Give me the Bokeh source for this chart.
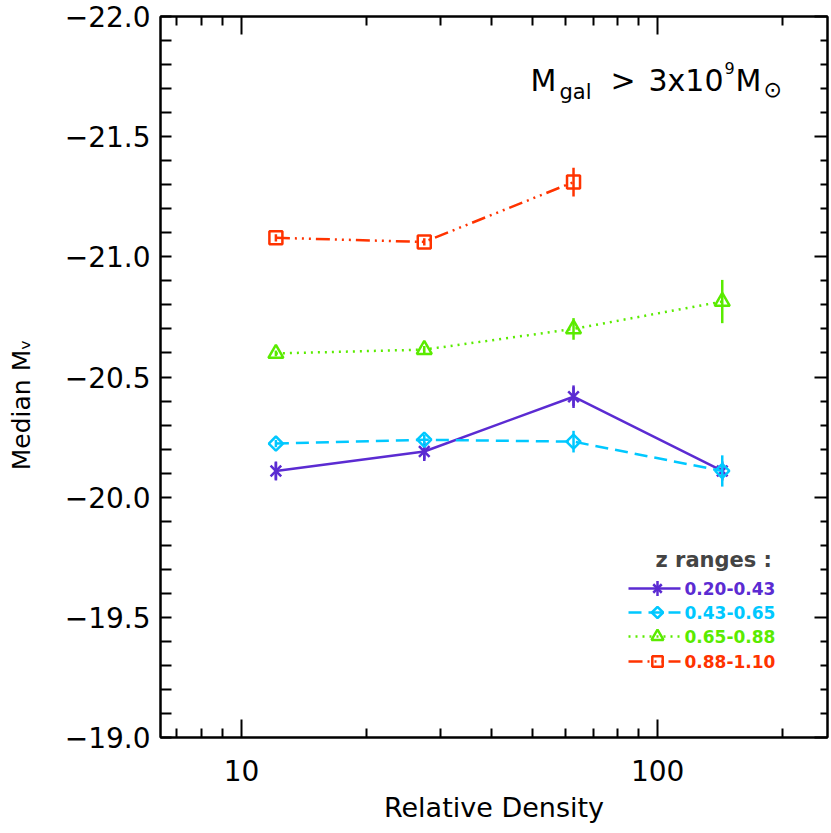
import math
from bokeh.plotting import figure
from bokeh.models import (Range1d, LinearAxis, LogAxis, FixedTicker,
                          CustomJSTickFormatter, Label, LinearScale)
from bokeh.embed import file_html
from bokeh.resources import INLINE

# ---------------- data ----------------
density_4 = [12.1, 27.5, 62.8, 143.0]
density_3 = [12.1, 27.5, 62.8]

mv_020_043 = [-20.109, -20.190, -20.418, -20.109]
err_020_043 = [0.036, 0.033, 0.047, 0.030]

mv_043_065 = [-20.223, -20.239, -20.231, -20.109]
err_043_065 = [0.015, 0.020, 0.045, 0.065]

mv_065_088 = [-20.598, -20.614, -20.700, -20.814]
err_065_088 = [0.012, 0.015, 0.045, 0.090]

mv_088_110 = [-21.079, -21.062, -21.311]
err_088_110 = [0.015, 0.015, 0.060]

z_labels = ["0.20-0.43", "0.43-0.65", "0.65-0.88", "0.88-1.10"]
y_ticks = [-22.0, -21.5, -21.0, -20.5, -20.0, -19.5, -19.0]
x_ticks = [10, 100]

# ---------------- styles ----------------
PURPLE = "#5b2bd2"
CYAN = "#00c8ff"
GREEN = "#5aeb00"
RED = "#ff3300"
FONT = "DejaVu Sans"

W, H = 829, 833
MB_L, MB_R, MB_T, MB_B = 160, 2, 16, 96
# frame position in canvas pixels
PX0, PX1 = MB_L, W - MB_R
PY0, PY1 = MB_T, H - MB_B

p = figure(width=W, height=H, x_axis_type="log",
           x_range=Range1d(6.39, 256), y_range=Range1d(-19.0, -22.0),
           output_backend="svg", toolbar_location=None,
           min_border_left=MB_L, min_border_right=MB_R,
           min_border_top=MB_T, min_border_bottom=MB_B)
p.grid.visible = False
p.outline_line_color = "black"
p.outline_line_width = 2
p.background_fill_color = "white"
p.border_fill_color = "white"

# pixel-coordinate helper ranges for annotations / legend
p.extra_x_ranges = {"pg": Range1d(PX0, PX1)}
p.extra_y_ranges = {"pg": Range1d(PY1, PY0)}
p.extra_x_scales = {"pg": LinearScale()}
p.extra_y_scales = {"pg": LinearScale()}

minor_y = [round(-22 + 0.1 * i, 1) for i in range(31) if i % 5 != 0]
minor_x = [7, 8, 9, 20, 30, 40, 50, 60, 70, 80, 90, 200]


def style_axis(ax, major_in, minor_in, labels=True):
    ax.axis_line_width = 2
    ax.axis_line_color = "black"
    ax.major_tick_line_width = 2
    ax.minor_tick_line_width = 2
    ax.major_tick_in = major_in
    ax.major_tick_out = 0
    ax.minor_tick_in = minor_in
    ax.minor_tick_out = 0
    if labels:
        ax.major_label_text_font = FONT
        ax.major_label_text_font_size = "28px"
        ax.major_label_text_color = "black"
    else:
        ax.major_label_text_font_size = "1px"
        ax.major_label_text_alpha = 0
        ax.major_label_standoff = 0


ytick = FixedTicker(ticks=y_ticks, minor_ticks=minor_y)
xtick = FixedTicker(ticks=x_ticks, minor_ticks=minor_x)
yfmt = CustomJSTickFormatter(code="return (tick < 0 ? '\u2212' : '') + Math.abs(tick).toFixed(1);")
xfmt = CustomJSTickFormatter(code="return tick.toFixed(0);")

ly = p.yaxis[0]
ly.ticker = ytick
ly.formatter = yfmt
style_axis(ly, 11, 11)
ly.major_label_standoff = 10
# y title (subscript V); padded with no-break spaces so it sits where the reference has it
ly.axis_label = "Median M\u1d65" + "\u00a0" * 7
ly.axis_label_text_font = FONT
ly.axis_label_text_font_size = "25px"
ly.axis_label_text_font_style = "normal"
ly.axis_label_text_color = "black"
ly.axis_label_standoff = 26

bx = p.xaxis[0]
bx.ticker = xtick
bx.formatter = xfmt
style_axis(bx, 18, 9)
bx.major_label_standoff = 22
bx.axis_label = "Relative Density"
bx.axis_label_text_font = FONT
bx.axis_label_text_font_size = "27px"
bx.axis_label_text_font_style = "normal"
bx.axis_label_text_color = "black"
bx.axis_label_standoff = 8

ry = LinearAxis(ticker=FixedTicker(ticks=y_ticks, minor_ticks=minor_y))
style_axis(ry, 13, 7, labels=False)
p.add_layout(ry, "right")

tx = LogAxis(ticker=FixedTicker(ticks=x_ticks, minor_ticks=minor_x))
style_axis(tx, 18, 9, labels=False)
p.add_layout(tx, "above")

# ---------------- series ----------------
series = [
    (density_4, mv_020_043, err_020_043, PURPLE, "solid", "star"),
    (density_4, mv_043_065, err_043_065, CYAN, "13 7", "diamond"),
    (density_4, mv_065_088, err_065_088, GREEN, "2 5", "triangle"),
    (density_3, mv_088_110, err_088_110, RED, "14 5 2 5 2 5 2 5", "square"),
]


def draw_marker(xs, ys, color, kind, big=True, **kw):
    s = 1.0 if big else 0.8
    if kind == "star":
        p.scatter(xs, ys, marker="x", size=15 * s, line_color=color, line_width=2.5, **kw)
        p.scatter(xs, ys, marker="dash", size=19 * s, angle=math.pi / 2,
                  line_color=color, line_width=2.5, **kw)
    elif kind == "diamond":
        p.scatter(xs, ys, marker="square", size=10 * s, angle=math.pi / 4,
                  line_color=color, line_width=2.5, fill_alpha=0, **kw)
    elif kind == "triangle":
        p.scatter(xs, ys, marker="triangle", size=15 * s,
                  line_color=color, line_width=2.5, fill_alpha=0, **kw)
    else:
        p.scatter(xs, ys, marker="square", size=13 * s,
                  line_color=color, line_width=2.5, fill_alpha=0, **kw)


for xs, ys, es, color, dash, kind in series:
    p.line(xs, ys, line_color=color, line_width=2.5, line_dash=dash)
    p.segment(x0=xs, y0=[y - e for y, e in zip(ys, es)],
              x1=xs, y1=[y + e for y, e in zip(ys, es)],
              line_color=color, line_width=2.5)
    draw_marker(xs, ys, color, kind)

# ---------------- legend (pixel coordinates) ----------------
leg_rows = [588, 612, 636, 661]
leg_x0, leg_xm, leg_x1, leg_tx = 628, 657, 680, 684
p.add_layout(Label(x=655, y=559, text="z ranges :", text_font=FONT,
                   text_font_size="21px", text_font_style="bold",
                   text_baseline="middle", text_align="left",
                   x_range_name="pg", y_range_name="pg"))
for (xs, ys, es, color, dash, kind), lab_txt, ry_ in zip(series, z_labels, leg_rows):
    p.line([leg_x0, leg_x1], [ry_, ry_], line_color=color, line_width=2.5,
           line_dash=dash, x_range_name="pg", y_range_name="pg")
    draw_marker([leg_xm], [ry_], color, kind, big=False,
                x_range_name="pg", y_range_name="pg")
    p.add_layout(Label(x=leg_tx, y=ry_, text=lab_txt, text_font=FONT,
                       text_font_size="17px", text_font_style="bold",
                       text_color=color, text_baseline="middle", text_align="left",
                       x_range_name="pg", y_range_name="pg"))


# ---------------- annotation M_gal > 3x10^9 M_sun ----------------
def lab(x, y, t, size, style="normal"):
    p.add_layout(Label(x=x, y=y, text=t, text_font=FONT, text_font_size=size,
                       text_align="left", text_baseline="alphabetic",
                       text_font_style=style,
                       text_color="black", x_range_name="pg", y_range_name="pg"))


lab(530, 80, "M", "30px")
lab(559, 91, "gal", "21px")
lab(610, 80, ">", "30px")
lab(648, 80, "3x10", "30px")
lab(724, 67, "9", "16px")
lab(735, 80, "M", "30px")
lab(763, 89, "\u2299", "22px")

open("out.html", "w").write(file_html(p, INLINE))
